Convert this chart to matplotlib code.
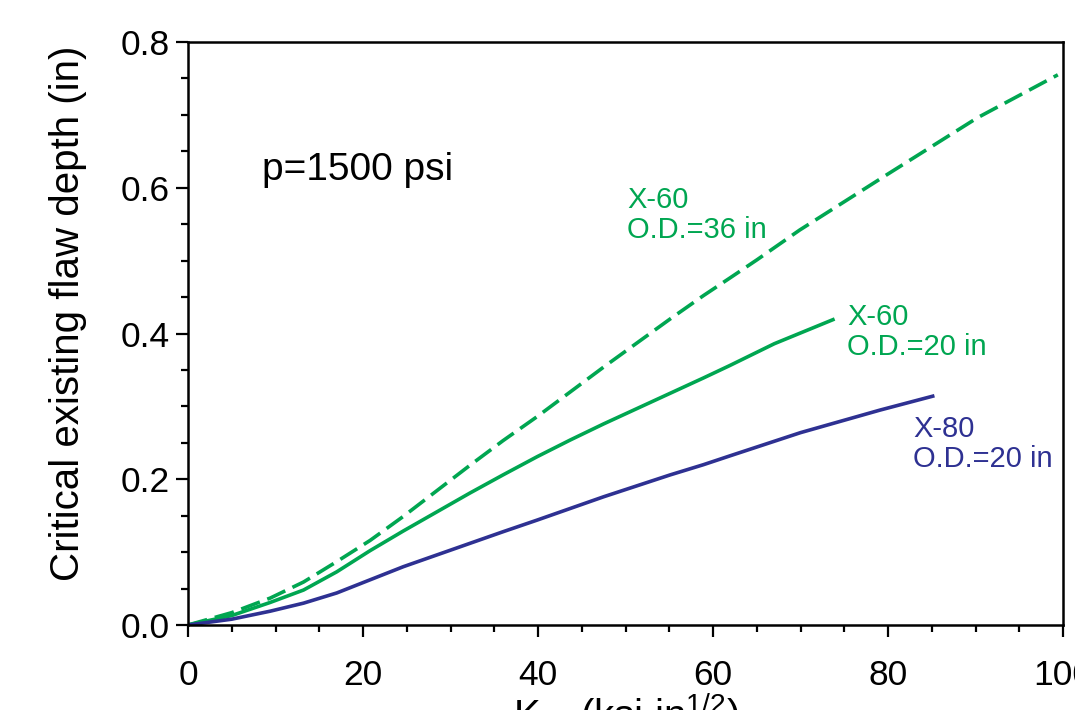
import numpy as np
import matplotlib.pyplot as plt
from matplotlib.ticker import MultipleLocator

plt.rcParams['font.family'] = ['Liberation Sans', 'DejaVu Sans']
plt.rcParams['mathtext.fontset'] = 'custom'
plt.rcParams['mathtext.rm'] = 'Liberation Sans'
plt.rcParams['mathtext.it'] = 'Liberation Sans'

# Critical flaw depth vs fracture toughness, p = 1500 psi
k_x60_36 = [0, 5, 9.4, 13.2, 17.0, 20.8, 24.6, 28.4, 32.2, 36.0, 39.9, 43.7, 47.5,
            51.3, 55.1, 58.9, 61.9, 65.0, 69.9, 80.0, 90.2, 99.4]
a_x60_36 = [0, 0.017, 0.037, 0.059, 0.087, 0.116, 0.149, 0.184, 0.219, 0.253, 0.286, 0.320, 0.354,
            0.387, 0.420, 0.452, 0.476, 0.501, 0.542, 0.619, 0.696, 0.755]

k_x60_20 = [0, 5, 9.4, 13.2, 17.0, 20.8, 24.6, 28.4, 32.2, 36.0, 39.9, 43.7, 47.5,
            51.3, 55.1, 58.9, 61.9, 67.0, 73.7]
a_x60_20 = [0, 0.013, 0.031, 0.048, 0.073, 0.102, 0.129, 0.155, 0.181, 0.206, 0.231, 0.254, 0.276,
            0.297, 0.318, 0.339, 0.356, 0.386, 0.419]

k_x80_20 = [0, 5, 9.4, 13.2, 17.0, 20.8, 24.6, 28.4, 32.2, 36.0, 39.9, 43.7, 47.5,
            51.3, 55.1, 58.9, 61.9, 70.0, 79.1, 85.1]
a_x80_20 = [0, 0.008, 0.019, 0.030, 0.044, 0.062, 0.080, 0.096, 0.112, 0.128, 0.144, 0.160, 0.176,
            0.191, 0.206, 0.220, 0.232, 0.264, 0.295, 0.314]

green = '#00a651'
blue = '#2e3192'

fig = plt.figure(figsize=(10.75, 7.1), dpi=100)
ax = fig.add_axes([0.1749, 0.1197, 0.8140, 0.8211])

ax.plot(k_x60_36, a_x60_36, color=green, lw=2.6, dashes=(5.5, 2.2))
ax.plot(k_x60_20, a_x60_20, color=green, lw=2.6)
ax.plot(k_x80_20, a_x80_20, color=blue, lw=2.6)

ax.text(8.5, 0.624, 'p=1500 psi', fontsize=28, va='center', ha='left')
ax.text(50.2, 0.563, 'X-60\nO.D.=36 in', fontsize=21, color=green,
        va='center', ha='left', linespacing=1.1)
ax.text(75.3, 0.402, 'X-60\nO.D.=20 in', fontsize=21, color=green,
        va='center', ha='left', linespacing=1.1)
ax.text(82.9, 0.248, 'X-80\nO.D.=20 in', fontsize=21, color=blue,
        va='center', ha='left', linespacing=1.1)

ax.set_xlim(0, 100)
ax.set_ylim(0, 0.8)
ax.xaxis.set_major_locator(MultipleLocator(20))
ax.xaxis.set_minor_locator(MultipleLocator(5))
ax.yaxis.set_major_locator(MultipleLocator(0.2))
ax.yaxis.set_minor_locator(MultipleLocator(0.05))
ax.xaxis.set_major_formatter(plt.FuncFormatter(lambda v, p: f'{v:.0f}'))
ax.yaxis.set_major_formatter(plt.FuncFormatter(lambda v, p: f'{v:.1f}'))

ax.tick_params(which='both', direction='out', width=1.6, labelsize=25.5,
               top=False, right=False)
ax.tick_params(which='major', length=8.5)
ax.tick_params(which='minor', length=5)
ax.tick_params(axis='x', which='major', pad=16)
ax.tick_params(axis='y', which='major', pad=5)
for s in ax.spines.values():
    s.set_linewidth(1.8)

ax.set_xlabel(r'$K_{IC}$ (ksi in$^{1/2}$)', fontsize=29)
ax.set_ylabel('Critical existing flaw depth (in)', fontsize=29)
ax.xaxis.set_label_coords(0.5, -0.112)
ax.yaxis.set_label_coords(-0.1154, 0.534)

fig.savefig('out.png', dpi=100)
